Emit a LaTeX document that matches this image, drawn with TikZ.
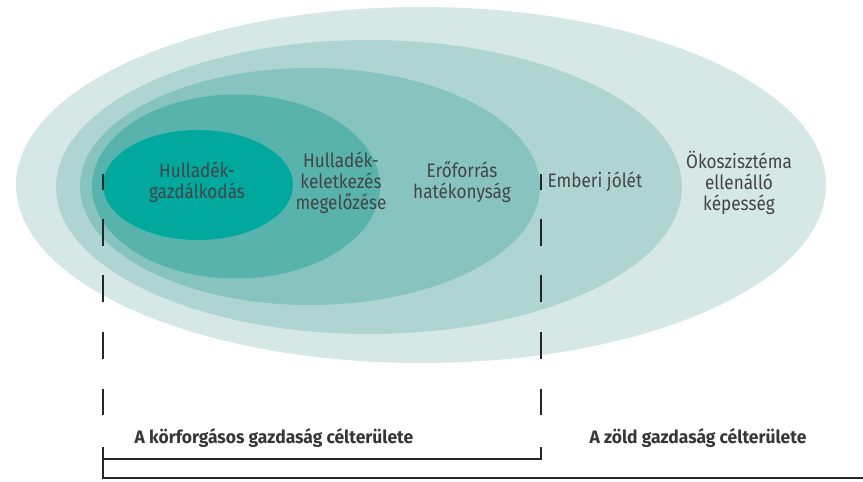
\documentclass[tikz,border=0pt]{standalone}
\usepackage{fontspec}
\setmainfont{Fira Sans}[FakeStretch=0.88]
\newfontfamily\bfam{Fira Sans}[FakeStretch=0.97]
\definecolor{ringA}{HTML}{D6E8E6}
\definecolor{ringB}{HTML}{AFD5D2}
\definecolor{ringC}{HTML}{88C4BF}
\definecolor{ringD}{HTML}{58B3AC}
\definecolor{ringE}{HTML}{00A89E}
\definecolor{txt}{HTML}{444446}
\begin{document}
\begin{tikzpicture}[x=1pt,y=-1pt,
  lbl/.style={align=center,text=txt,font=\fontsize{19.5}{21}\selectfont,inner sep=0pt},
  blbl/.style={text=txt!80!black,font=\bfam\bfseries\fontsize{18}{20}\selectfont,inner sep=0pt},
  dashline/.style={line width=2pt,draw=black!85,dash pattern=on 16pt off 29pt on 27pt off 29pt on 27pt off 30pt on 27pt off 30pt on 26pt},
  bracket/.style={line width=2pt,draw=black!85}]
\useasboundingbox (0,0) rectangle (863,482);
\fill[ringA] (421,185) ellipse [x radius=405,y radius=178];
\fill[ringB] (369,187) ellipse [x radius=313,y radius=147];
\fill[ringC] (310,186.5) ellipse [x radius=230,y radius=118.5];
\fill[ringD] (236,186.5) ellipse [x radius=144,y radius=92];
\fill[ringE] (198,185) ellipse [x radius=95,y radius=55];

\node[lbl] (t1) at (197,182) {Hulladék-\\gazdálkodás};
\node[lbl] (t2) at (341,183) {Hulladék-\\keletkezés\\megelőzése};
\node[lbl] (t3) at (462,182) {Erőforrás\\hatékonyság};
\node[lbl] (t4) at (595,182) {Emberi jólét};
\node[lbl] (t5) at (739,183) {Ökoszisztéma\\ellenálló\\képesség};

\node[blbl] (b1) at (274,438) {A körforgásos gazdaság célterülete};
\node[blbl] (b2) at (698,438) {A zöld gazdaság célterülete};

\coordinate (la) at (103,174);
\coordinate (lb) at (103,417);
\coordinate (ra) at (541,174);
\coordinate (rb) at (541,417);
\draw[dashline] (la) -- (lb);
\draw[dashline] (ra) -- (rb);

\coordinate (k1) at (103,447);
\coordinate (k2) at (103,478);
\coordinate (k3) at (541,447);
\coordinate (k4) at (541,459);
\coordinate (k5) at (103,459);
\coordinate (k6) at (863,478);
\draw[bracket] (k1) -- (k2) -- (k6);
\draw[bracket] (k3) -- (k4) -- (k5);
\end{tikzpicture}
\end{document}
